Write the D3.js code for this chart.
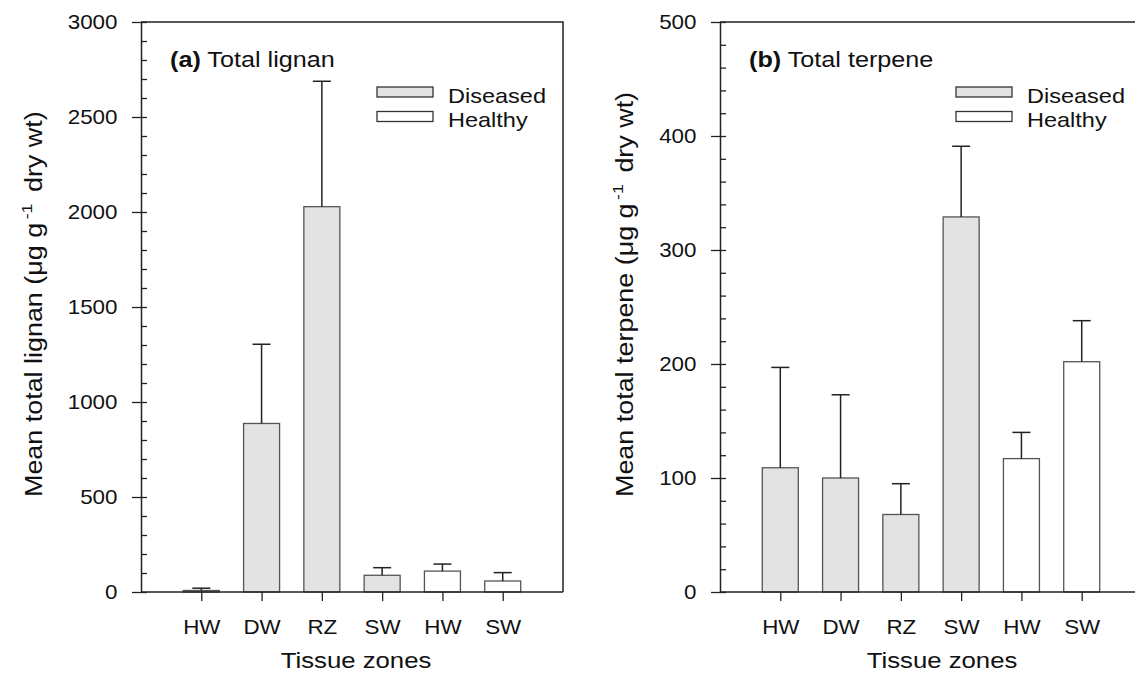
<!DOCTYPE html>
<html>
<head>
<meta charset="utf-8">
<script src="https://cdn.jsdelivr.net/npm/d3@7"></script>
<style>
  body { margin: 0; background: #fff; }
  svg text { font-family: "Liberation Sans", Arial, sans-serif; fill: #111; }
</style>
</head>
<body>
<div id="chart"></div>
<script>
// Data
const zones = ["HW", "DW", "RZ", "SW", "HW", "SW"];
const status = ["Diseased", "Diseased", "Diseased", "Diseased", "Healthy", "Healthy"];
const lignanMean = [8, 887, 2028, 88, 110, 58];
const lignanErr = [12, 417, 660, 40, 37, 44];
const terpeneMean = [109, 100, 68, 329, 117, 202];
const terpeneErr = [88, 73, 27, 62, 23, 36];
const lignanTicks = [0, 500, 1000, 1500, 2000, 2500, 3000];
const terpeneTicks = [0, 100, 200, 300, 400, 500];

const width = 1135, height = 674;
const SX = 1.12; // the figure's text is a little wider than normal
const fillFor = { Diseased: "#e3e3e3", Healthy: "#ffffff" };

const svg = d3.select("#chart")
    .append("svg")
    .attr("width", width)
    .attr("height", height);

// text with a slight horizontal stretch
const hText = (parent, x, y, size, anchor) => parent.append("g")
    .attr("transform", `translate(${x},${y}) scale(${SX},1)`)
    .append("text")
    .attr("font-size", size)
    .attr("text-anchor", anchor);

const drawPanel = (cfg) => {
    const { left, top, bottom, w, means, errs, ticks, minorStep } = cfg;
    const g = svg.append("g");

    const x = d3.scalePoint()
        .domain(d3.range(zones.length))
        .range([left, left + w])
        .padding(1);
    const y = d3.scaleLinear()
        .domain([0, ticks[ticks.length - 1]])
        .range([bottom, top]);
    const barW = 36;

    // bars
    g.selectAll("rect.bar")
        .data(means)
        .join("rect")
        .attr("class", "bar")
        .attr("x", (d, i) => x(i) - barW / 2)
        .attr("y", d => y(d))
        .attr("width", barW)
        .attr("height", d => y(0) - y(d))
        .attr("fill", (d, i) => fillFor[status[i]])
        .attr("stroke", "#555")
        .attr("stroke-width", 1.3);

    // error bars (upper only)
    const eb = g.selectAll("g.err")
        .data(means)
        .join("g")
        .attr("class", "err");
    eb.append("line")
        .attr("x1", (d, i) => x(i)).attr("x2", (d, i) => x(i))
        .attr("y1", d => y(d))
        .attr("y2", (d, i) => y(d + errs[i]))
        .attr("stroke", "#222").attr("stroke-width", 1.5);
    eb.append("line")
        .attr("x1", (d, i) => x(i) - 9).attr("x2", (d, i) => x(i) + 9)
        .attr("y1", (d, i) => y(d + errs[i]))
        .attr("y2", (d, i) => y(d + errs[i]))
        .attr("stroke", "#222").attr("stroke-width", 1.5);

    // frame top and right
    g.append("path")
        .attr("d", `M${left},${top}H${left + w}V${bottom}`)
        .attr("fill", "none").attr("stroke", "#222").attr("stroke-width", 1.5);

    // minor ticks inside
    g.append("g")
        .attr("transform", `translate(${left},0)`)
        .call(d3.axisLeft(y).tickValues(d3.range(0, ticks[ticks.length - 1] + 1, minorStep))
            .tickSize(-6).tickFormat(""))
        .call(a => a.select(".domain").remove())
        .selectAll("line").attr("stroke", "#222").attr("stroke-width", 1.3);

    // left axis
    const leftAxis = g.append("g")
        .attr("transform", `translate(${left},0)`)
        .call(d3.axisLeft(y).tickValues(ticks).tickSize(9).tickSizeOuter(0).tickFormat(d3.format("d")));
    leftAxis.select(".domain").attr("stroke", "#222").attr("stroke-width", 1.5);
    leftAxis.selectAll(".tick line").attr("stroke", "#222").attr("stroke-width", 1.3);
    leftAxis.selectAll(".tick text")
        .attr("font-size", 20)
        .attr("x", -23.5 / SX)
        .attr("transform", `scale(${SX},1)`);

    // bottom axis
    const bottomAxis = g.append("g")
        .attr("transform", `translate(0,${bottom})`)
        .call(d3.axisBottom(x).tickSize(9).tickSizeOuter(0).tickFormat(i => zones[i]));
    bottomAxis.select(".domain")
        .attr("d", `M${left},0H${left + w}`)
        .attr("stroke", "#222").attr("stroke-width", 1.5);
    bottomAxis.selectAll(".tick line").attr("stroke", "#222").attr("stroke-width", 1.3);
    bottomAxis.selectAll(".tick text")
        .attr("font-size", 20)
        .attr("y", 42).attr("dy", null)
        .attr("transform", `scale(${SX},1)`);

    // axis titles
    hText(g, left + w / 2 + cfg.xlabDx, 668, 23, "middle").text("Tissue zones");

    // rotated y title, stretched along its length like the figure
    const yl = g.append("text")
        .attr("transform", `translate(${cfg.ylabX},497) rotate(-90) scale(1.17,1)`)
        .attr("font-size", 23)
        .attr("text-anchor", "start");
    yl.append("tspan").text(cfg.ylab + " (μg g");
    yl.append("tspan").attr("font-size", 15).attr("dy", -10).attr("dx", 3).text("-1");
    yl.append("tspan").attr("dy", 10).attr("dx", 10).text("dry wt)");

    // panel title
    const t = hText(g, left + 29, 67, 22.5, "start");
    t.append("tspan").attr("font-weight", "bold").text(cfg.tag);
    t.append("tspan").text(" " + cfg.title);

    // legend
    const legend = g.append("g")
        .attr("transform", `translate(${left + 236},87)`);
    ["Diseased", "Healthy"].forEach((s, i) => {
        legend.append("rect")
            .attr("x", 0).attr("y", i * 24.5)
            .attr("width", 56).attr("height", 10)
            .attr("fill", fillFor[s])
            .attr("stroke", "#333").attr("stroke-width", 1.3);
        hText(legend, 71, i * 24.5 + 15.5, 21, "start").text(s);
    });
};

drawPanel({
    left: 141, top: 22, bottom: 592, w: 422,
    means: lignanMean, errs: lignanErr, ticks: lignanTicks, minorStep: 100,
    tag: "(a)", title: "Total lignan", ylab: "Mean total lignan", ylabX: 42, xlabDx: 4
});

drawPanel({
    left: 720, top: 22, bottom: 592, w: 422,
    means: terpeneMean, errs: terpeneErr, ticks: terpeneTicks, minorStep: 20,
    tag: "(b)", title: "Total terpene", ylab: "Mean total terpene", ylabX: 633, xlabDx: 11
});
</script>
</body>
</html>
